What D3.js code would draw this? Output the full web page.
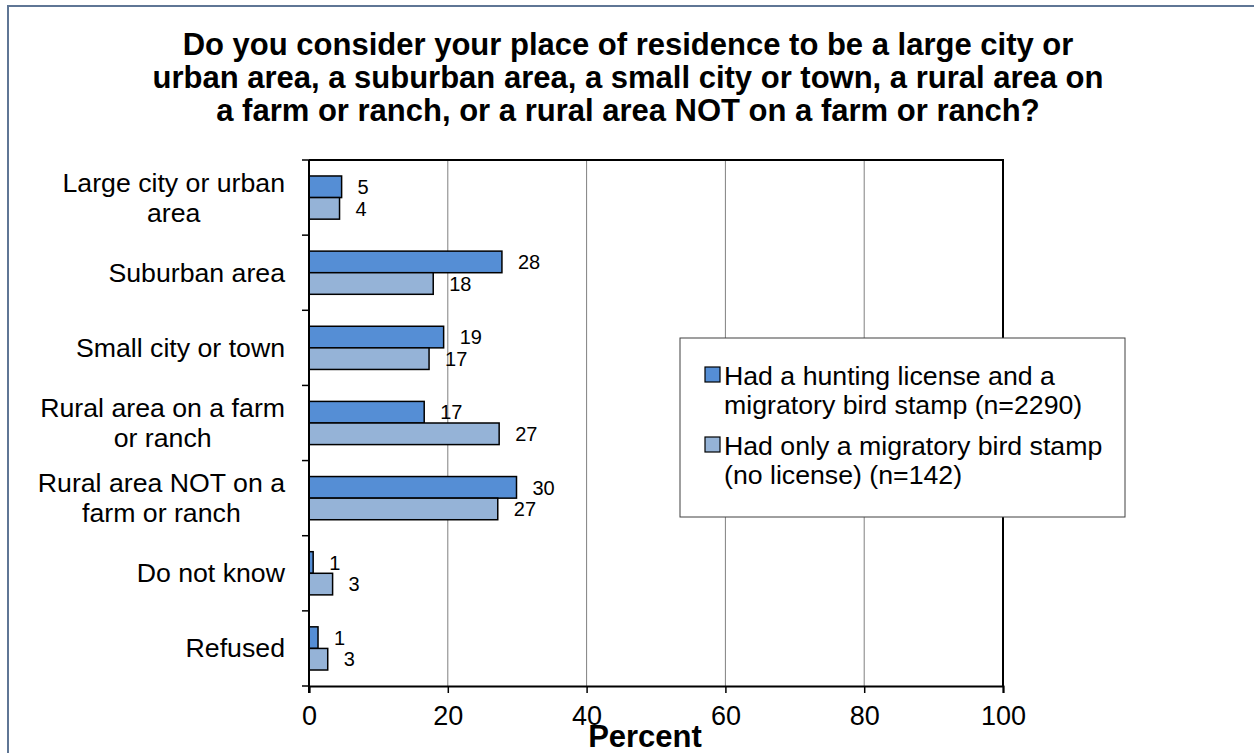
<!DOCTYPE html>
<html><head><meta charset="utf-8">
<script src="https://cdn.jsdelivr.net/npm/d3@7"></script>
<style>body{margin:0;background:#fff}svg{display:block;font-family:"Liberation Sans",Arial,sans-serif}</style>
</head><body><svg id="c" width="1254" height="753"></svg>
<script>
const titleLines = ["Do you consider your place of residence to be a large city or",
  "urban area, a suburban area, a small city or town, a rural area on",
  "a farm or ranch, or a rural area NOT on a farm or ranch?"];
const categories = [["Large city or urban","area"],["Suburban area"],["Small city or town"],
  ["Rural area on a farm","or ranch"],["Rural area NOT on a","farm or ranch"],["Do not know"],["Refused"]];
const seriesNames = ["Had a hunting license and a|migratory bird stamp (n=2290)",
  "Had only a migratory bird stamp|(no license) (n=142)"];
const licenseAndStamp = [4.7, 27.8, 19.4, 16.6, 29.9, 0.6, 1.3];
const stampOnly = [4.4, 17.9, 17.3, 27.4, 27.2, 3.4, 2.7];
const xTicks = [0, 20, 40, 60, 80, 100];
const colors = ["#558ed5", "#95b3d7"];

const svg = d3.select("#c");
svg.append("rect").attr("x",8).attr("y",6).attr("width",1400).attr("height",900)
  .attr("fill","none").attr("stroke","#5f7695").attr("stroke-width",2);

const tt = svg.append("text").attr("text-anchor","middle").attr("font-weight","bold").attr("font-size",31);
titleLines.forEach((l,i)=>tt.append("tspan").attr("x",628).attr("y",55+i*33).text(l));

const L=309,R=1003,T=160,B=686;
const x = d3.scaleLinear().domain([0,100]).range([L,R]);
const idx = d3.range(categories.length);
const y = d3.scaleBand().domain(idx).range([T,B]).padding(0);
const ys = d3.scaleBand().domain([0,1]).range([0,y.bandwidth()]).paddingInner(0).paddingOuter(0.74);

// gridlines
svg.append("g").selectAll("line").data(xTicks.filter(t=>t>0&&t<100)).join("line")
  .attr("x1",d=>x(d)).attr("x2",d=>x(d)).attr("y1",T).attr("y2",B)
  .attr("stroke","#808080").attr("stroke-width",1);
// top/right border
svg.append("path").attr("d",`M${L},${T}H${R}V${B}`).attr("fill","none").attr("stroke","#000").attr("stroke-width",2);

// bars
const series = [licenseAndStamp, stampOnly];
series.forEach((vals,s)=>{
  const g = svg.append("g");
  g.selectAll("rect").data(vals).join("rect")
    .attr("x",x(0)).attr("y",(d,i)=>y(i)+ys(s)).attr("width",d=>x(d)-x(0)).attr("height",ys.bandwidth())
    .attr("fill",colors[s]).attr("stroke","#000").attr("stroke-width",1.5);
  g.selectAll("text").data(vals).join("text")
    .attr("x",d=>x(d)+16).attr("y",(d,i)=>y(i)+ys(s)+ys.bandwidth()/2).attr("dy","0.36em")
    .attr("font-size",20).text(d=>d3.format(".0f")(d));
});

// x axis
const xa = svg.append("g").attr("transform",`translate(0,${B})`)
  .call(d3.axisBottom(x).tickValues(xTicks).tickSize(7).tickPadding(13).tickFormat(d3.format("d")));
xa.select(".domain").attr("stroke","#000").attr("stroke-width",2);
xa.selectAll(".tick line").attr("stroke","#000").attr("stroke-width",1.5);
xa.selectAll("text").attr("font-size",27).attr("fill","#000").attr("font-family","Liberation Sans, Arial, sans-serif");

// y axis
const yEdges = d3.range(categories.length+1).map(i=>T+i*y.step());
svg.append("line").attr("x1",L).attr("x2",L).attr("y1",T).attr("y2",B+7).attr("stroke","#000").attr("stroke-width",2);
svg.append("g").selectAll("line").data(yEdges).join("line")
  .attr("x1",L-7).attr("x2",L).attr("y1",d=>d).attr("y2",d=>d).attr("stroke","#000").attr("stroke-width",1.5);

// category labels
categories.forEach((lines,i)=>{
  const t = svg.append("text").attr("font-size",26.7).attr("text-anchor","middle");
  const cy = y(i)+y.bandwidth()/2;
  const lh = 30;
  const spans = lines.map((l,k)=>t.append("tspan").attr("y",cy+9+(k-(lines.length-1)/2)*lh).text(l));
  const w = d3.max(spans,s=>s.node().getComputedTextLength());
  spans.forEach(s=>s.attr("x",285-w/2));
});

// axis title
svg.append("text").attr("x",645).attr("y",747).attr("text-anchor","middle").attr("font-weight","bold")
  .attr("font-size",31).text("Percent");

// legend
const lg = svg.append("g");
lg.append("rect").attr("x",680).attr("y",338).attr("width",445).attr("height",179)
  .attr("fill","#fff").attr("stroke","#404040").attr("stroke-width",1);
seriesNames.forEach((n,s)=>{
  const by = 385 + s*70;
  lg.append("rect").attr("x",705).attr("y",by-18).attr("width",15).attr("height",15)
    .attr("fill",colors[s]).attr("stroke","#000").attr("stroke-width",1.2);
  const t = lg.append("text").attr("font-size",26.7);
  n.split("|").forEach((l,k)=>t.append("tspan").attr("x",724).attr("y",by+k*29).text(l));
});
</script></body></html>
